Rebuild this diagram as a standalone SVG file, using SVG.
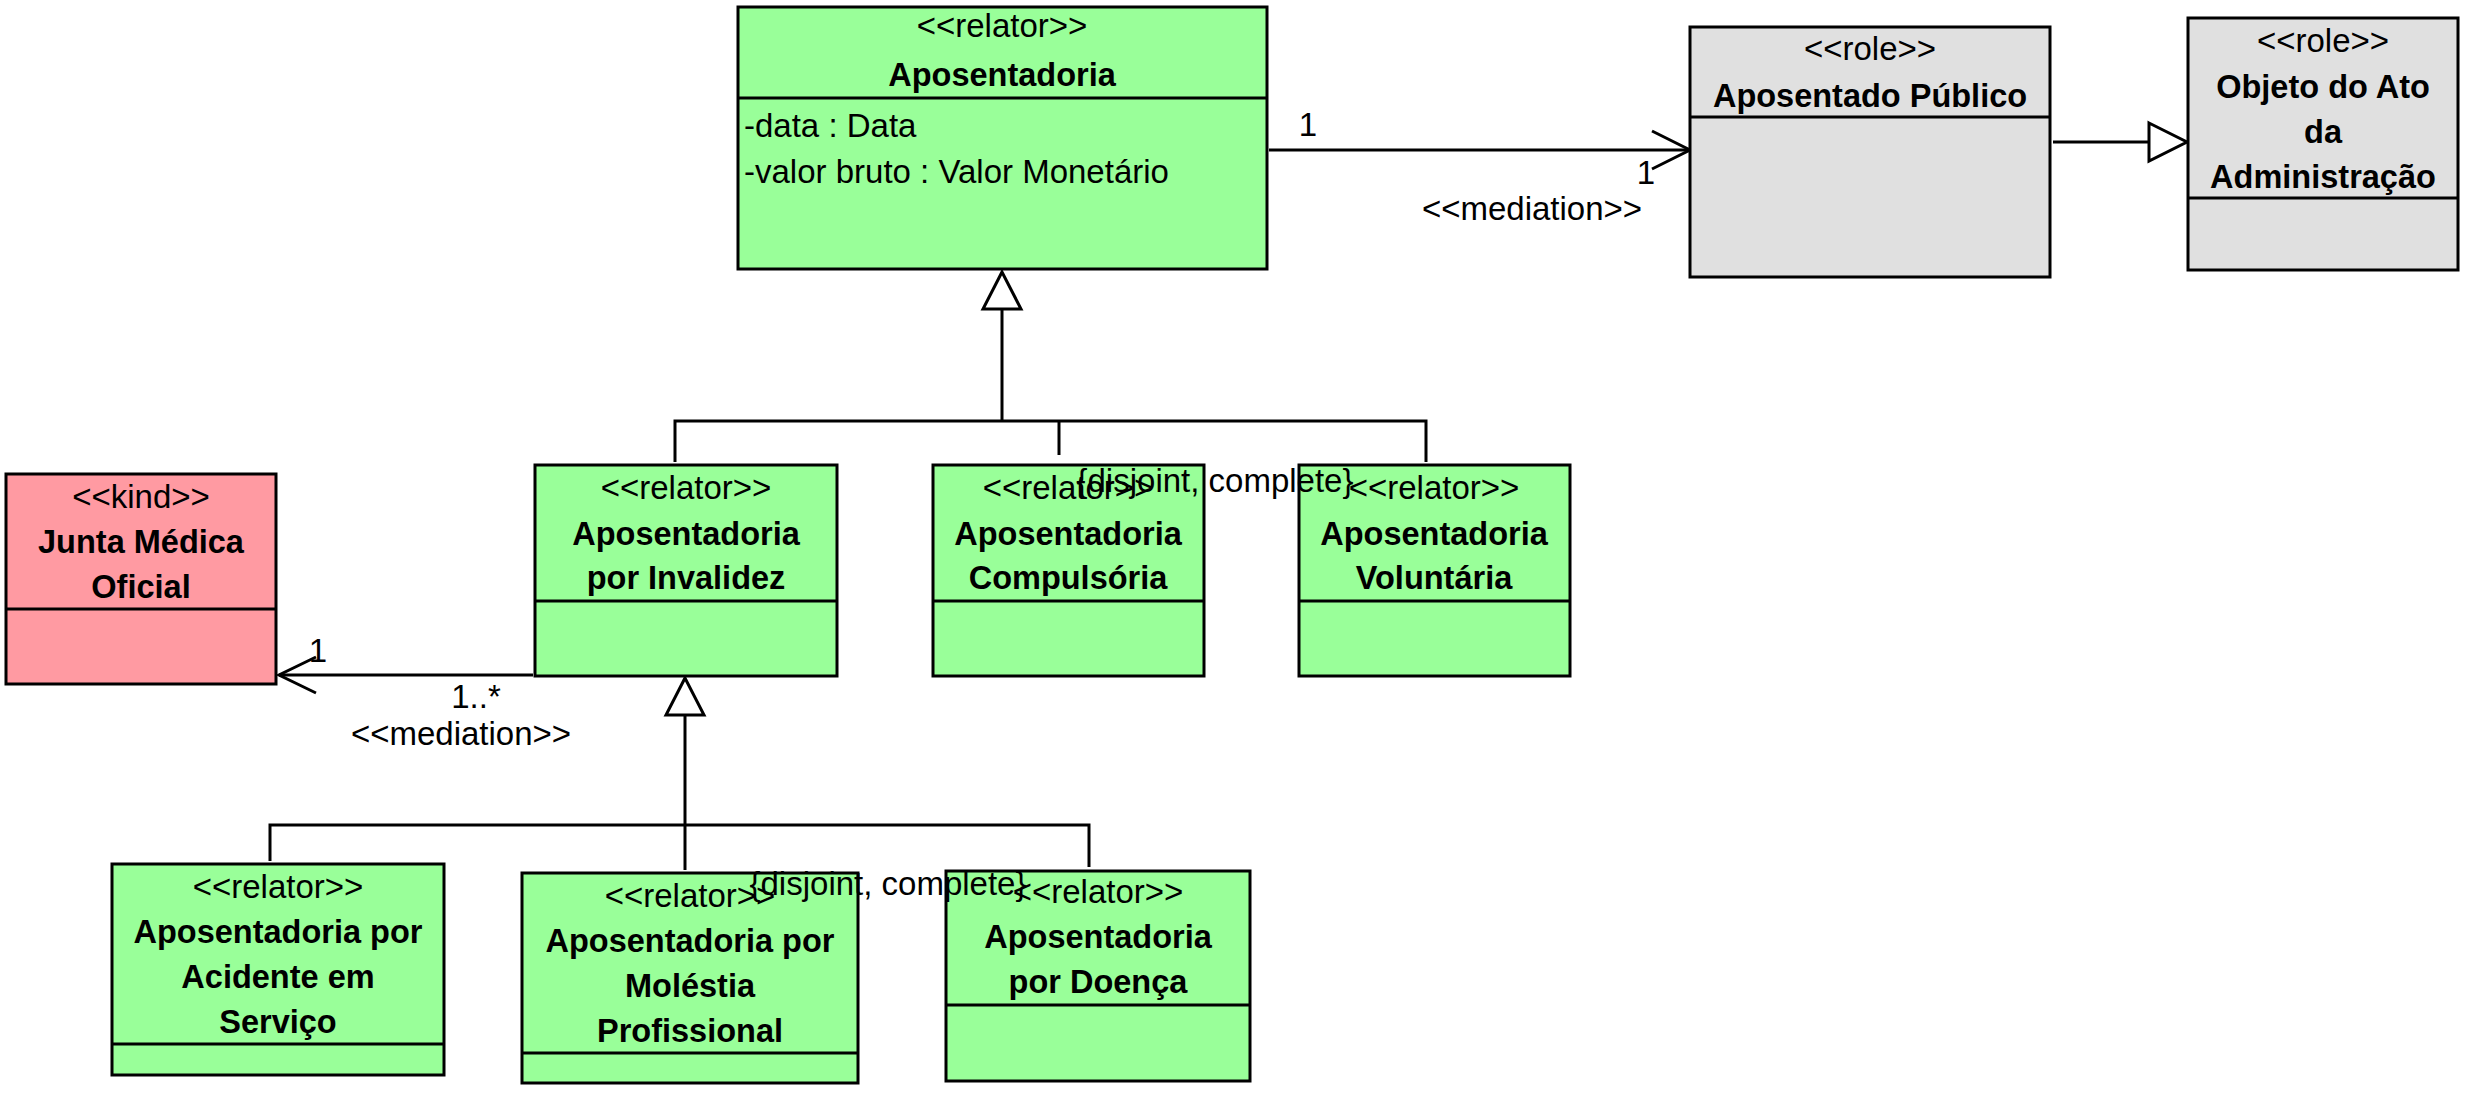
<svg xmlns="http://www.w3.org/2000/svg" width="2469" height="1095" viewBox="0 0 2469 1095">
<style>
.box{stroke:#000;stroke-width:3}
.relator{fill:#99FF99}
.role{fill:#E0E0E0}
.kind{fill:#FF9AA2}
.div{stroke:#000;stroke-width:3}
text{font-family:"Liberation Sans",Arial,sans-serif;font-size:33px;fill:#000}
.c{text-anchor:middle}
.b{font-weight:bold;font-size:32.5px}
.ln{stroke:#000;stroke-width:3;fill:none}
.tri{stroke:#000;stroke-width:3;fill:#fff}
</style>
<rect width="2469" height="1095" fill="#fff"/>
<g id="connectors">
  <g id="med1">
    <line class="ln" x1="1269" y1="150" x2="1690" y2="150"/>
    <polyline class="ln" points="1652,131 1690,150 1652,169"/>
    <text class="c" x="1308" y="136">1</text>
    <text class="c" x="1646" y="184">1</text>
    <text class="c" x="1532" y="220">&lt;&lt;mediation&gt;&gt;</text>
  </g>
  <g id="gen-role">
    <line class="ln" x1="2053" y1="142" x2="2149" y2="142"/>
    <polygon class="tri" points="2149,123 2187,142 2149,161"/>
  </g>
  <g id="genset1">
    <line class="ln" x1="1002" y1="309" x2="1002" y2="421"/>
    <polygon class="tri" points="1002,272 983,309 1021,309"/>
    <polyline class="ln" points="675,462 675,421 1426,421 1426,462"/>
    <line class="ln" x1="1059" y1="421" x2="1059" y2="455"/>
  </g>
  <g id="med2">
    <line class="ln" x1="533" y1="675" x2="279" y2="675"/>
    <polyline class="ln" points="316,657 279,675 316,693"/>
    <text class="c" x="318" y="662">1</text>
    <text class="c" x="476" y="708">1..*</text>
    <text class="c" x="461" y="745">&lt;&lt;mediation&gt;&gt;</text>
  </g>
  <g id="genset2">
    <line class="ln" x1="685" y1="715" x2="685" y2="870"/>
    <polygon class="tri" points="685,678 666,715 704,715"/>
    <polyline class="ln" points="270,861 270,825 1089,825 1089,867"/>
  </g>
</g>
<g id="Aposentadoria">
  <rect class="box relator" x="738" y="7" width="529" height="262"/>
  <line class="div" x1="738" y1="98" x2="1267" y2="98"/>
  <text class="c" x="1002" y="37">&lt;&lt;relator&gt;&gt;</text>
  <text class="c b" x="1002" y="86">Aposentadoria</text>
  <text x="744" y="137">-data : Data</text>
  <text x="744" y="183">-valor bruto : Valor Monetário</text>
</g>
<g id="AposentadoPublico">
  <rect class="box role" x="1690" y="27" width="360" height="250"/>
  <line class="div" x1="1690" y1="117" x2="2050" y2="117"/>
  <text class="c" x="1870" y="60">&lt;&lt;role&gt;&gt;</text>
  <text class="c b" x="1870" y="107">Aposentado Público</text>
</g>
<g id="ObjetoAto">
  <rect class="box role" x="2188" y="18" width="270" height="252"/>
  <line class="div" x1="2188" y1="198" x2="2458" y2="198"/>
  <text class="c" x="2323" y="52">&lt;&lt;role&gt;&gt;</text>
  <text class="c b" x="2323" y="98">Objeto do Ato</text>
  <text class="c b" x="2323" y="143">da</text>
  <text class="c b" x="2323" y="188">Administração</text>
</g>
<g id="JuntaMedica">
  <rect class="box kind" x="6" y="474" width="270" height="210"/>
  <line class="div" x1="6" y1="609" x2="276" y2="609"/>
  <text class="c" x="141" y="508">&lt;&lt;kind&gt;&gt;</text>
  <text class="c b" x="141" y="553">Junta Médica</text>
  <text class="c b" x="141" y="598">Oficial</text>
</g>
<g id="Invalidez">
  <rect class="box relator" x="535" y="465" width="302" height="211"/>
  <line class="div" x1="535" y1="601" x2="837" y2="601"/>
  <text class="c" x="686" y="499">&lt;&lt;relator&gt;&gt;</text>
  <text class="c b" x="686" y="545">Aposentadoria</text>
  <text class="c b" x="686" y="589">por Invalidez</text>
</g>
<g id="Compulsoria">
  <rect class="box relator" x="933" y="465" width="271" height="211"/>
  <line class="div" x1="933" y1="601" x2="1204" y2="601"/>
  <text class="c" x="1068" y="499">&lt;&lt;relator&gt;&gt;</text>
  <text class="c b" x="1068" y="545">Aposentadoria</text>
  <text class="c b" x="1068" y="589">Compulsória</text>
</g>
<g id="Voluntaria">
  <rect class="box relator" x="1299" y="465" width="271" height="211"/>
  <line class="div" x1="1299" y1="601" x2="1570" y2="601"/>
  <text class="c" x="1434" y="499">&lt;&lt;relator&gt;&gt;</text>
  <text class="c b" x="1434" y="545">Aposentadoria</text>
  <text class="c b" x="1434" y="589">Voluntária</text>
</g>
<g id="Acidente">
  <rect class="box relator" x="112" y="864" width="332" height="211"/>
  <line class="div" x1="112" y1="1044" x2="444" y2="1044"/>
  <text class="c" x="278" y="898">&lt;&lt;relator&gt;&gt;</text>
  <text class="c b" x="278" y="943">Aposentadoria por</text>
  <text class="c b" x="278" y="988">Acidente em</text>
  <text class="c b" x="278" y="1033">Serviço</text>
</g>
<g id="Molestia">
  <rect class="box relator" x="522" y="873" width="336" height="210"/>
  <line class="div" x1="522" y1="1053" x2="858" y2="1053"/>
  <text class="c" x="690" y="907">&lt;&lt;relator&gt;&gt;</text>
  <text class="c b" x="690" y="952">Aposentadoria por</text>
  <text class="c b" x="690" y="997">Moléstia</text>
  <text class="c b" x="690" y="1042">Profissional</text>
</g>
<g id="Doenca">
  <rect class="box relator" x="946" y="871" width="304" height="210"/>
  <line class="div" x1="946" y1="1005" x2="1250" y2="1005"/>
  <text class="c" x="1098" y="903">&lt;&lt;relator&gt;&gt;</text>
  <text class="c b" x="1098" y="948">Aposentadoria</text>
  <text class="c b" x="1098" y="993">por Doença</text>
</g>
<g id="genset-labels">
  <text class="c" x="1215" y="492">{disjoint, complete}</text>
  <text class="c" x="888" y="895">{disjoint, complete}</text>
</g>
</svg>
